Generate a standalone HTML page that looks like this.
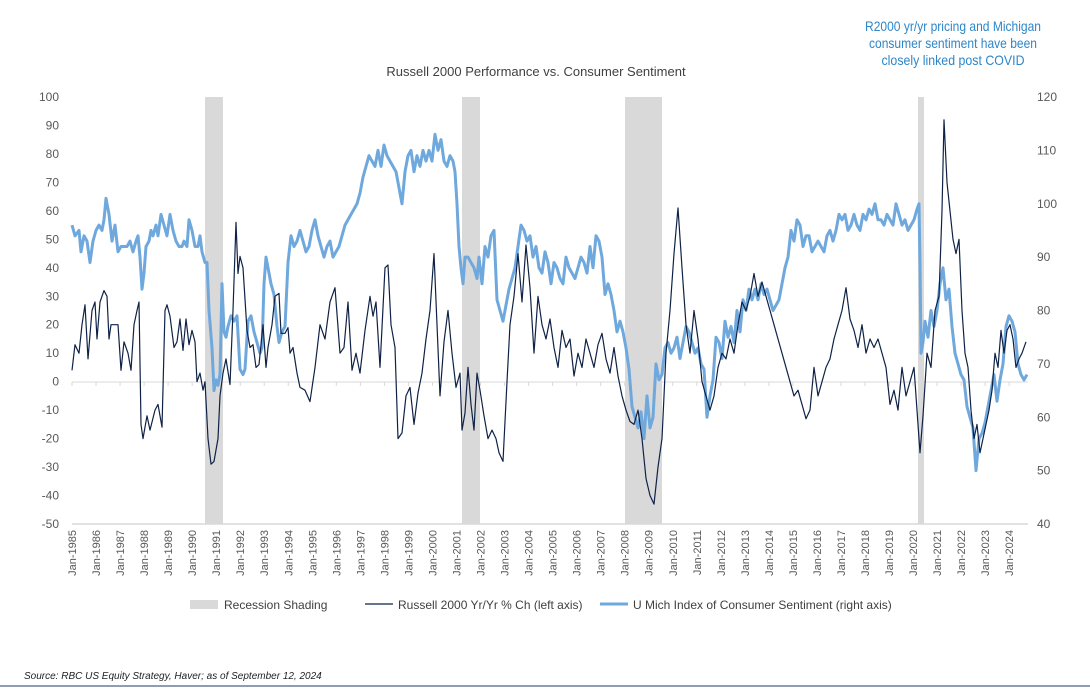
<!DOCTYPE html>
<html><head><meta charset="utf-8"><style>
html,body{margin:0;padding:0;background:#fff;}
svg{display:block;font-family:"Liberation Sans",Arial,sans-serif;}
</style></head><body>
<svg id="s" width="1090" height="694" viewBox="0 0 1090 694" xmlns="http://www.w3.org/2000/svg">
<rect width="1090" height="694" fill="#fff"/>
<g fill="#d9d9d9">
<rect x="205" y="97" width="18" height="427"/>
<rect x="462" y="97" width="18" height="427"/>
<rect x="625" y="97" width="37" height="427"/>
<rect x="918" y="97" width="6" height="427"/>
</g>
<line x1="72" y1="524" x2="1028" y2="524" stroke="#d9d9d9" stroke-width="1.5"/>
<line x1="72" y1="382" x2="1028" y2="382" stroke="#d9d9d9" stroke-width="1"/>
<g id="ticks" stroke="#d9d9d9"></g>
<g id="ylab" font-size="12" fill="#595959"></g>
<g id="xlab" font-size="11" fill="#595959"></g>
<text x="536" y="76" font-size="13" fill="#404040" text-anchor="middle">Russell 2000 Performance vs. Consumer Sentiment</text>
<g font-size="14" fill="#2e86c8" text-anchor="middle">
<text x="953" y="31" textLength="176" lengthAdjust="spacingAndGlyphs">R2000 yr/yr pricing and Michigan</text>
<text x="953" y="48" textLength="168" lengthAdjust="spacingAndGlyphs">consumer sentiment have been</text>
<text x="953" y="65" textLength="143" lengthAdjust="spacingAndGlyphs">closely linked post COVID</text>
</g>
<polyline id="lt" fill="none" stroke="#6fa8dc" stroke-width="3" stroke-linejoin="round"/>
<polyline id="dk" fill="none" stroke="#0f2246" stroke-width="1.2" stroke-linejoin="round"/>
<g font-size="12" fill="#404040">
<rect x="190" y="600" width="28" height="9" fill="#d9d9d9"/>
<text x="224" y="609">Recession Shading</text>
<line x1="365" y1="604" x2="393" y2="604" stroke="#0f2246" stroke-width="1.2"/>
<text x="398" y="609">Russell 2000 Yr/Yr % Ch (left axis)</text>
<line x1="600" y1="604" x2="628" y2="604" stroke="#6fa8dc" stroke-width="3"/>
<text x="633" y="609">U Mich Index of Consumer Sentiment (right axis)</text>
</g>
<text x="24" y="679" font-size="10" font-style="italic" fill="#1f1f1f">Source: RBC US Equity Strategy, Haver; as of September 12, 2024</text>
<line x1="0" y1="686" x2="1090" y2="686" stroke="#1f3864" stroke-width="1"/>
</svg>
<script>
var NS="http://www.w3.org/2000/svg";
function el(p,t,a,txt){var e=document.createElementNS(NS,t);for(var k in a)e.setAttribute(k,a[k]);if(txt)e.textContent=txt;p.appendChild(e);}
var yl=document.getElementById('ylab');
for(var v=100;v>=-50;v-=10){var y=97+(100-v)*2.8467;el(yl,'text',{x:59,y:y+4,'text-anchor':'end'},String(v));}
for(var v=120;v>=40;v-=10){var y=97+(120-v)*5.3375;el(yl,'text',{x:1037,y:y+4},String(v));}
var xl=document.getElementById('xlab'),tk=document.getElementById('ticks');
for(var i=0;i<=39;i++){var x=72+i*24.03;el(tk,'line',{x1:x,y1:382,x2:x,y2:386});
el(xl,'text',{x:0,y:0,'text-anchor':'end',transform:'translate('+(x+4)+',530) rotate(-90)'},'Jan-'+(1985+i));}
var D=[72,4,75,13,79,10,82,20,85,27,88,8,92,25,95,28,97,15,100,28,104,32,107,30,109,15,111,20,118,20,121,4,124,14,128,10,131,4,134,20,137,25,139,28,141,-15,143,-20,147,-12,150,-17,155,-10,158,-8,162,-16,165,25,167,27,170,23,174,12,177,14,180,22,183,11,186,22,189,13,192,18,195,14,197,0,200,3,203,-3,205,0,208,-20,211,-29,214,-28,218,-20,220,-5,223,3,226,8,230,-1,233,25,236,56,238,38,240,44,243,40,247,18,250,12,253,13,256,5,259,6,263,20,266,5,268,12,272,20,275,30,279,31,281,17,285,17,288,19,290,10,293,12,297,3,300,-2,305,-3,310,-7,315,5,320,20,325,15,330,28,335,33,340,10,344,12,348,28,352,4,356,10,360,3,365,18,370,30,373,23,376,28,380,5,385,40,388,41,391,20,395,12,398,-20,402,-18,406,-5,410,-2,414,-15,418,-4,422,3,426,15,430,25,434,45,437,20,440,-5,444,14,448,25,452,10,456,-2,460,3,462,-17,465,-11,468,5,471,-8,474,-17,477,3,480,-3,484,-12,488,-20,492,-17,496,-20,499,-25,503,-28,507,0,510,20,514,30,518,45,522,28,526,48,530,33,534,10,538,30,542,20,546,15,550,22,554,12,558,5,562,18,566,12,570,15,574,2,578,10,582,5,586,15,590,10,594,5,598,13,602,17,606,8,610,3,614,12,618,2,622,-5,626,-10,630,-14,634,-15,638,-10,642,-20,646,-34,650,-40,654,-43,658,-30,662,-20,666,10,670,25,674,45,678,61,682,40,686,20,690,10,694,25,698,15,702,0,706,-5,710,-10,714,-5,718,5,722,10,726,8,730,15,734,10,738,20,742,28,746,25,750,30,754,38,758,30,762,35,766,30,770,25,774,20,778,15,782,10,786,5,790,0,794,-5,798,-3,802,-8,806,-13,810,-10,814,5,818,-5,822,0,826,5,830,8,834,15,838,20,842,25,846,33,850,22,854,18,858,12,862,20,866,10,870,15,874,12,878,15,882,10,886,5,890,-8,894,-3,898,-10,902,5,906,-5,910,0,914,5,918,-15,920,-25,923,-12,927,10,931,5,935,25,939,30,942,60,944,92,947,70,950,60,953,50,956,45,959,50,962,25,965,10,968,5,971,-10,974,-20,977,-15,980,-25,983,-20,986,-15,989,-10,992,-3,995,10,998,5,1001,18,1004,10,1007,18,1010,20,1013,15,1016,5,1019,8,1022,10,1026,14];
var L=[72,96,75,94,79,95,81,91,84,94,87,93,90,89,93,93,96,95,99,96,102,95,104,97,106,101,109,98,112,93,115,96,118,91,121,92,124,92,127,92,130,93,133,91,136,93,138,94,140,90,142,84,144,87,146,92,149,93,151,95,153,94,156,96,158,94,161,98,164,96,167,94,170,98,173,95,176,93,179,92,182,92,184,93,187,92,189,97,192,95,195,92,198,92,200,94,202,91,205,89,207,89,209,80,212,73,214,65,216,67,218,66,220,68,222,85,224,76,226,75,228,77,231,79,234,78,237,79,240,69,243,68,245,69,248,78,251,79,254,76,257,74,260,72,262,73,264,85,266,90,268,88,271,85,274,83,277,77,279,74,282,76,285,77,288,89,291,94,294,92,297,93,300,95,303,93,306,91,309,92,312,95,315,97,318,94,321,92,324,90,327,92,330,93,333,90,336,91,339,92,342,94,345,96,348,97,351,98,354,99,357,100,360,102,363,105,366,107,369,109,372,108,375,107,378,110,381,107,384,111,387,109,390,108,393,107,396,106,399,103,402,100,405,106,408,109,411,110,414,106,417,109,420,107,423,110,426,108,429,110,432,108,435,113,438,110,441,112,444,108,447,107,450,109,453,108,455,106,457,100,459,92,461,88,463,85,465,90,468,90,471,89,474,88,477,86,479,90,482,85,485,92,488,90,491,94,494,95,497,82,500,80,503,78,506,81,509,84,512,86,515,88,518,92,521,96,524,95,527,93,530,94,533,90,536,92,539,88,542,87,545,91,548,89,551,85,554,89,557,88,560,86,563,85,566,90,569,88,572,87,575,86,578,88,581,90,584,89,587,87,590,92,593,88,596,94,599,93,602,90,605,83,608,85,611,83,614,80,617,76,620,78,623,76,626,73,629,69,632,62,635,60,638,58,641,61,644,56,647,64,650,58,653,60,656,70,659,67,662,68,665,73,668,74,671,72,674,73,677,75,680,71,683,74,686,77,689,76,692,74,695,72,698,73,701,70,704,69,707,60,710,64,713,67,716,75,719,74,722,71,725,78,728,75,731,77,734,74,737,80,740,76,743,82,746,80,749,84,752,82,755,84,758,82,761,85,764,83,767,84,770,82,773,80,776,81,779,82,782,85,785,88,788,90,791,95,794,93,797,97,800,96,803,92,806,94,809,94,812,91,815,92,818,93,821,92,824,91,827,94,830,95,833,93,836,95,839,98,842,97,845,98,848,95,851,96,854,98,857,96,860,95,863,98,866,97,869,99,872,98,875,100,878,97,881,97,884,96,887,98,890,97,893,96,896,100,899,98,902,96,905,97,908,95,911,96,914,97,917,99,919,100,920,89,921,72,923,74,925,78,928,75,931,80,934,77,937,80,940,85,943,88,946,82,949,84,952,77,955,72,958,70,961,68,964,67,967,62,970,60,973,58,976,50,979,56,982,57,985,59,988,62,991,65,994,68,997,63,1000,67,1003,70,1006,77,1009,79,1012,78,1015,76,1018,70,1021,68,1024,67,1027,68];
function pts(a,f){var s=[];for(var i=0;i<a.length;i+=2)s.push(a[i]+','+f(a[i+1]).toFixed(1));return s.join(' ');}
document.getElementById('dk').setAttribute('points',pts(D,function(v){return 97+(100-v)*2.8467;}));
document.getElementById('lt').setAttribute('points',pts(L,function(v){return 97+(120-v)*5.3375;}));
</script>
</body></html>
